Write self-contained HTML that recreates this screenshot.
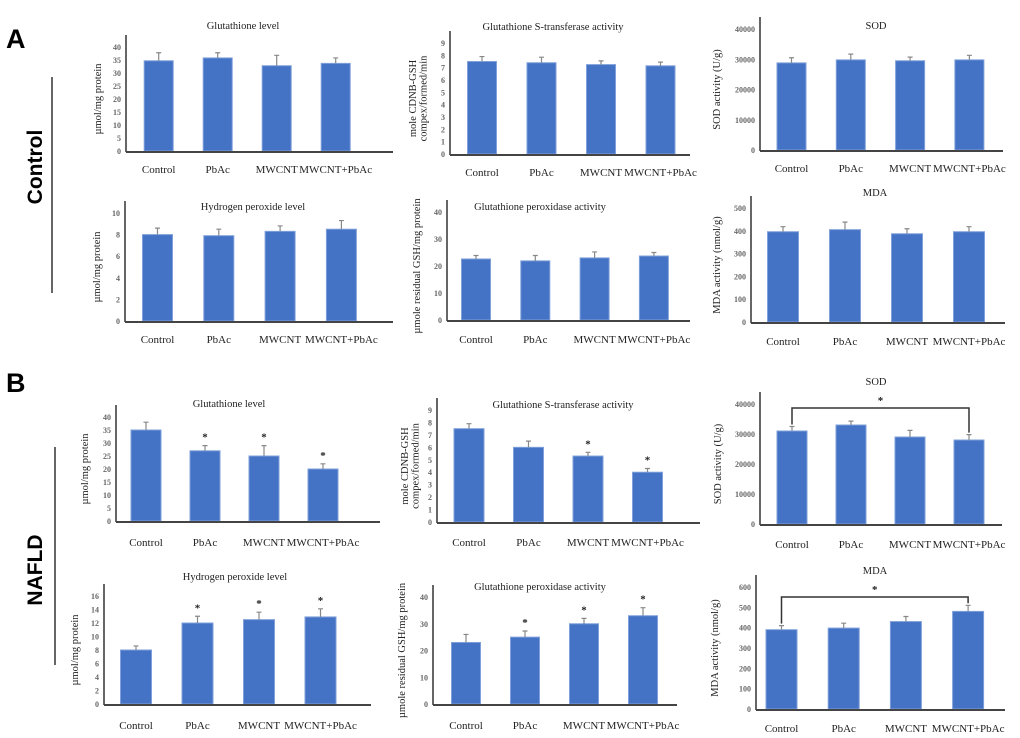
<!DOCTYPE html>
<html><head><meta charset="utf-8">
<style>
html,body{margin:0;padding:0;background:#fff;}
svg{display:block;}
text{font-family:"Liberation Serif",serif;}
</style></head>
<body>
<svg id="fig" width="1020" height="738" xmlns="http://www.w3.org/2000/svg">
<text x="6" y="48" style="font-family:'Liberation Sans',sans-serif;font-weight:bold;font-size:27px">A</text>
<text x="6" y="392" style="font-family:'Liberation Sans',sans-serif;font-weight:bold;font-size:27px">B</text>
<text transform="translate(42,167) rotate(-90)" text-anchor="middle" style="font-family:'Liberation Sans',sans-serif;font-weight:bold;font-size:21px">Control</text>
<line x1="52" y1="77" x2="52" y2="293" stroke="#333" stroke-width="1.5"/>
<text transform="translate(42,570) rotate(-90)" text-anchor="middle" style="font-family:'Liberation Sans',sans-serif;font-weight:bold;font-size:21px">NAFLD</text>
<line x1="55" y1="447" x2="55" y2="665" stroke="#333" stroke-width="1.5"/>
</svg>
<script>
const categories = ["Control","PbAc","MWCNT","MWCNT+PbAc"];

const a1Values = [34.7, 35.8, 32.8, 33.7];
const a1Errors = [3.1, 2.0, 4.0, 2.1];
const a1Ticks = [0,5,10,15,20,25,30,35,40];
const a1Stars = [false,false,false,false];

const a2Values = [7.5, 7.4, 7.25, 7.15];
const a2Errors = [0.4, 0.45, 0.3, 0.3];
const a2Ticks = [0,1,2,3,4,5,6,7,8,9];
const a2Stars = [false,false,false,false];

const a3Values = [28800, 29800, 29500, 29800];
const a3Errors = [1700, 1900, 1200, 1500];
const a3Ticks = [0,10000,20000,30000,40000];
const a3Stars = [false,false,false,false];

const a4Values = [8.0, 7.9, 8.3, 8.5];
const a4Errors = [0.6, 0.6, 0.5, 0.8];
const a4Ticks = [0,2,4,6,8,10];
const a4Stars = [false,false,false,false];

const a5Values = [22.6, 21.9, 23.0, 23.7];
const a5Errors = [1.3, 2.0, 2.2, 1.3];
const a5Ticks = [0,10,20,30,40];
const a5Stars = [false,false,false,false];

const a6Values = [396, 405, 387, 396];
const a6Errors = [22, 33, 22, 22];
const a6Ticks = [0,100,200,300,400,500];
const a6Stars = [false,false,false,false];

const b1Values = [35, 27, 25, 20];
const b1Errors = [3, 2, 4, 2];
const b1Ticks = [0,5,10,15,20,25,30,35,40];
const b1Stars = [false,true,true,true];

const b2Values = [7.5, 6.0, 5.3, 4.0];
const b2Errors = [0.4, 0.5, 0.3, 0.3];
const b2Ticks = [0,1,2,3,4,5,6,7,8,9];
const b2Stars = [false,false,true,true];

const b3Values = [31000, 33000, 29000, 28000];
const b3Errors = [1500, 1300, 2200, 1800];
const b3Ticks = [0,10000,20000,30000,40000];
const b3Stars = [false,false,false,false];
const b3Bracket = [0, 3];

const b4Values = [8.0, 12.0, 12.5, 12.9];
const b4Errors = [0.6, 1.0, 1.1, 1.2];
const b4Ticks = [0,2,4,6,8,10,12,14,16];
const b4Stars = [false,true,true,true];

const b5Values = [23, 25, 30, 33];
const b5Errors = [3, 2.3, 2, 3];
const b5Ticks = [0,10,20,30,40];
const b5Stars = [false,true,true,true];

const b6Values = [390, 398, 430, 480];
const b6Errors = [20, 24, 25, 30];
const b6Ticks = [0,100,200,300,400,500,600];
const b6Stars = [false,false,false,false];
const b6Bracket = [0, 3];

const NS = "http://www.w3.org/2000/svg";
const svg = document.getElementById("fig");
function mk(tag, attrs, parent){
  const e = document.createElementNS(NS, tag);
  for (const k in attrs) e.setAttribute(k, attrs[k]);
  (parent||svg).appendChild(e);
  return e;
}

function drawPanel(id, L, values, errors, ticks, stars, bracket){
  const g = mk("g", {});
  
  
  const max = ticks[ticks.length-1];
  const yScale = v => L.y0 - (v / max) * (L.y0 - L.yT);
  const xScale = i => L.c0 + i * L.step;
  const t = mk("text", {x:L.tx, y:L.ty, "text-anchor":"middle", "font-size":"10.5", fill:"#222"}, g);
  t.textContent = L.title;
  
  
  const lines = L.ylabel;
  lines.forEach((s, k) => {
    const yl = mk("text", {transform:"translate(" + (L.ylx + k*10.5) + "," + ((L.y0+L.yT)/2) + ") rotate(-90)", "text-anchor":"middle", "font-size":"10.5", fill:"#222"}, g);
    yl.textContent = s;
    
    
  });
  ticks.forEach(v => {
    const tk = mk("text", {x:L.ax-5, y:yScale(v)+3, "text-anchor":"end", "font-size":"8", "font-weight":"bold", fill:"#666"}, g);
    tk.textContent = v;
    
    
  });
  values.forEach((v, i) => {
    const cx = xScale(i), w = L.bw;
    const r = mk("rect", {x:cx-w/2, y:yScale(v), width:w, height:L.y0-yScale(v), fill:"#4472C4", stroke:"#7fa0db", "stroke-width":"1"}, g);
    
    
    const et = yScale(v + errors[i]);
    const e = mk("path", {d:"M"+cx+","+yScale(v)+"V"+et+"M"+(cx-2.5)+","+et+"H"+(cx+2.5), stroke:"#888", "stroke-width":"1.2", fill:"none"}, g);
    
    
    if (stars[i]) {
      const s = mk("text", {x:cx, y:et-5, "text-anchor":"middle", "font-size":"11", "font-weight":"bold", fill:"#222"}, g);
      s.textContent = "*";
      
      
    }
    const lb = mk("text", {x:cx, y:L.ly, "text-anchor":"middle", "font-size":"11", fill:"#222"}, g);
    lb.textContent = categories[i];
    
    
  });
  const ya = mk("line", {x1:L.ax, y1:L.yT-12, x2:L.ax, y2:L.y0+1, stroke:"#333", "stroke-width":"1.5"}, g);
  
  
  const xa = mk("line", {x1:L.ax, y1:L.y0+1, x2:L.x1, y2:L.y0+1, stroke:"#444", "stroke-width":"2"}, g);
  
  
  if (bracket) {
    const i0 = bracket[0], i1 = bracket[1];
    const xa0 = xScale(i0), xa1 = xScale(i1);
    const e0 = yScale(values[i0] + errors[i0]) - 2, e1 = yScale(values[i1] + errors[i1]) - 2;
    const br = mk("path", {d:"M"+xa0+","+e0+"V"+L.by+"H"+xa1+"V"+e1, stroke:"#333", "stroke-width":"1.5", fill:"none"}, g);
    
    
    const s = mk("text", {x:(xa0+xa1)/2, y:L.by-4, "text-anchor":"middle", "font-size":"11", "font-weight":"bold", fill:"#222"}, g);
    s.textContent = "*";
    
    
  }
}

const gshY = ["µmol/mg protein"];
const gstY = ["mole CDNB-GSH", "compex/formed/min"];
const sodY = ["SOD activity  (U/g)"];
const gpxY = ["µmole residual GSH/mg protein"];
const mdaY = ["MDA activity  (nmol/g)"];

drawPanel("a-glutathione", {ax:126,x1:393,y0:151,yT:47,c0:158.7,step:59,bw:29,tx:243,ty:29,ly:173,ylx:101,title:"Glutathione level",ylabel:gshY}, a1Values, a1Errors, a1Ticks, a1Stars);
drawPanel("a-gst", {ax:450,x1:690,y0:154,yT:43,c0:482,step:59.5,bw:29,tx:553,ty:30,ly:176,ylx:416,title:"Glutathione S-transferase activity",ylabel:gstY}, a2Values, a2Errors, a2Ticks, a2Stars);
drawPanel("a-sod", {ax:760,x1:1003,y0:150,yT:29,c0:791.5,step:59.3,bw:29,tx:876,ty:29,ly:172,ylx:720,title:"SOD",ylabel:sodY}, a3Values, a3Errors, a3Ticks, a3Stars);
drawPanel("a-h2o2", {ax:125,x1:393,y0:321,yT:213,c0:157.5,step:61.3,bw:30,tx:253,ty:210,ly:343,ylx:100,title:"Hydrogen peroxide level",ylabel:gshY}, a4Values, a4Errors, a4Ticks, a4Stars);
drawPanel("a-gpx", {ax:447,x1:690,y0:320,yT:212,c0:476,step:59.3,bw:29,tx:540,ty:210,ly:343,ylx:420,title:"Glutathione peroxidase activity",ylabel:gpxY}, a5Values, a5Errors, a5Ticks, a5Stars);
drawPanel("a-mda", {ax:751,x1:1005,y0:322,yT:208,c0:783,step:62,bw:31,tx:875,ty:196,ly:345,ylx:720,title:"MDA",ylabel:mdaY}, a6Values, a6Errors, a6Ticks, a6Stars);
drawPanel("b-glutathione", {ax:116,x1:380,y0:521,yT:417,c0:146,step:59,bw:30,tx:229,ty:407,ly:546,ylx:88,title:"Glutathione level",ylabel:gshY}, b1Values, b1Errors, b1Ticks, b1Stars);
drawPanel("b-gst", {ax:437,x1:700,y0:522,yT:410,c0:469,step:59.5,bw:30,tx:563,ty:408,ly:546,ylx:408,title:"Glutathione S-transferase activity",ylabel:gstY}, b2Values, b2Errors, b2Ticks, b2Stars);
drawPanel("b-sod", {ax:760,x1:1002,y0:524,yT:404,c0:792,step:59,bw:30,tx:876,ty:385,ly:548,ylx:721,by:408,title:"SOD",ylabel:sodY}, b3Values, b3Errors, b3Ticks, b3Stars, b3Bracket);
drawPanel("b-h2o2", {ax:104,x1:371,y0:704,yT:596,c0:136,step:61.5,bw:31,tx:235,ty:580,ly:729,ylx:78,title:"Hydrogen peroxide level",ylabel:gshY}, b4Values, b4Errors, b4Ticks, b4Stars);
drawPanel("b-gpx", {ax:433,x1:677,y0:704,yT:597,c0:466,step:59,bw:29,tx:540,ty:590,ly:729,ylx:405,title:"Glutathione peroxidase activity",ylabel:gpxY}, b5Values, b5Errors, b5Ticks, b5Stars);
drawPanel("b-mda", {ax:756,x1:1005,y0:709,yT:587,c0:781.5,step:62.2,bw:31,tx:875,ty:574,ly:732,ylx:718,by:597,title:"MDA",ylabel:mdaY}, b6Values, b6Errors, b6Ticks, b6Stars, b6Bracket);
</script>
</body></html>
